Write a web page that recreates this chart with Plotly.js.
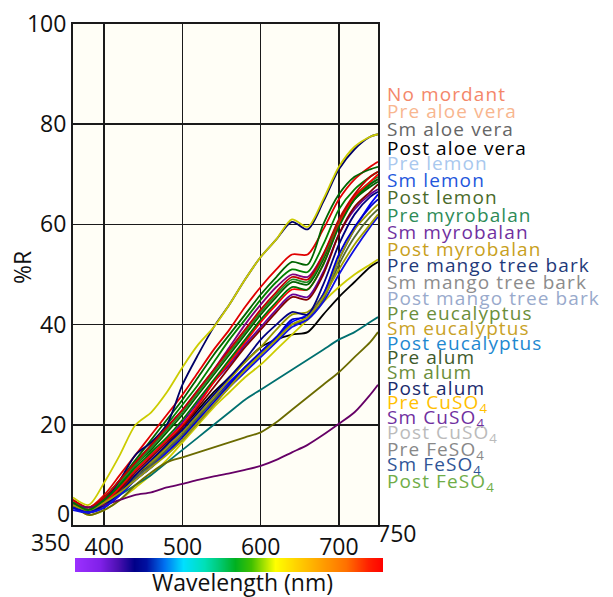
<!DOCTYPE html>
<html>
<head>
<meta charset="utf-8">
<script src="https://cdn.plot.ly/plotly-3.0.1.min.js"></script>
<style>html,body{margin:0;padding:0;background:#fff;}#chart{width:613px;height:597px;}</style>
</head>
<body>
<div id="chart"></div>
<script>
// ---- data ----
const wavelengths = [360,380,400,420,440,460,480,500,520,540,560,580,600,620,640,660,680,700,720,740,750];

const seriesNames = [
  "No mordant","Pre aloe vera","Sm aloe vera","Post aloe vera","Pre lemon","Sm lemon","Post lemon",
  "Pre myrobalan","Sm myrobalan","Post myrobalan","Pre mango tree bark","Sm mango tree bark",
  "Post mango tree bark","Pre eucalyptus","Sm eucalyptus","Post eucalyptus","Pre alum","Sm alum",
  "Post alum","Pre CuSO<sub>4</sub>","Sm CuSO<sub>4</sub>","Post CuSO<sub>4</sub>",
  "Pre FeSO<sub>4</sub>","Sm FeSO<sub>4</sub>","Post FeSO<sub>4</sub>"
];

const noMordant       = [5,3.5,6,10,14,18,22,26,30.5,35,39,43.5,47.5,51,54,54,59,65,69,71.5,72.5];
const preAloeVera     = [4,3,5.5,9,13,17,21,25,29.5,34,38,42,46,49.5,52.5,52,60,66,69.5,71,71.5];
const smAloeVera      = [4.5,3,5,8.5,12.5,16,20,24,28,32.5,37,41,45,48.5,51,50.5,56,63,67,69.5,70.5];
const postAloeVera    = [4,2.5,4,6.5,9.5,12.5,16,19.5,23,26.5,29.5,32.5,35.5,37,38,38.5,42,45.5,48.5,51.5,52.5];
const preLemon        = [4,2.5,4.5,8,12,15.5,19.5,23,27,31,35.5,40,44,47.5,50,49.5,54,60.5,65,68,69];
const smLemon         = [3.5,2.5,4,6.5,9.5,12,15,18,21.5,25,28.5,31.5,34.5,37.5,40.5,42,46,53,59,64,66];
const postLemon       = [4.5,3,5,8,12,15,18.5,22,26,30,34,38,42,45.5,48.5,48,53,60,65,67.5,68.5];
const preMyrobalan    = [4.5,3,5,8.5,12,15.5,19,22.5,26.5,30.5,34.5,38.5,42.5,46,49,48.5,53.5,60.5,65.5,68.5,69.5];
const smMyrobalan     = [4,2.5,4.5,7.5,11,14,17,20.5,24.5,28.5,32,36,39.5,43,46,45.5,50.5,58,63,66,67];
const postMyrobalan   = [4,3,4.5,7,10,12.5,15.5,18.5,22,25.5,29,32.5,35.5,39,42,42.5,46,53,59,62.5,64];
const preMango        = [4,3,5,9,14,16.5,20,28,34,39.5,44,49,53.5,57,60.5,59,64.5,71,75,77.5,78];
const smMango         = [5,3,4.5,7.5,11,14,17,20,24,28.5,32.5,36.5,40.5,44,47,47,52,60,65.5,68.5,70];
const postMango       = [4,2.5,4,7,10.5,13.5,16.5,19.5,23.5,27.5,31.5,35.5,39,42.5,45.5,45,50,58,63.5,66.5,68];
const preEucalyptus   = [5,3.5,5.5,9,12.5,16,19.5,23,27,31,35,39,43,46.5,49.5,49,54,61,66,69.5,70.5];
const smEucalyptus    = [4,2,3,5,7.5,10,13,16.5,20,23.5,26.5,29.5,32,35,38,41,44.5,47.5,50,52,53];
const postEucalyptus  = [4.5,3,4,6,8,10,12.5,15,17.5,20,22.5,25,27,29,31,33,35,37,38.5,40.5,41.5];
const preAlum         = [4,2,3,5,8,10.5,12.5,13.5,14.5,15.5,16.5,17.5,18.5,20.5,23,25.5,28,30.5,33.5,36.5,38.5];
const smAlum          = [4,2.5,4,6.5,9.5,12,15,18,21.5,25,28,31,34,37,40,41,45,52,57.5,61.5,63];
const postAlum        = [3.5,2.5,4,6.5,10,13,16,19,22.5,26,29.5,33,37,40,42.5,42,48,56,62,65.5,66.5];
const preCuSO4        = [5.5,4,8.5,14,20,22.5,26.5,31.5,36,39.5,44,49,53.5,57,61,59.5,65,71.5,75.5,77.5,78];
const smCuSO4         = [4,3.5,4,5,6,6.5,7.5,8.2,9,9.7,10.3,11,11.8,13,14.5,16,18,20.2,22.5,26,28];
const postCuSO4       = [3.5,2.5,3.5,6,9,11.5,14.5,17.5,21,24.5,28,31.5,34.5,37.5,41,41.5,46,54,59.5,63.5,65];
const preFeSO4        = [3,2.5,3.5,6,9,11.5,14.5,17,20.5,24,27.5,30.5,33.5,36.5,39.5,41,44.5,50,55,59.5,61.5];
const smFeSO4         = [4,3,4.5,6.5,9,11.5,14,17,20.5,24,27.5,31,34,37,40,41.5,45.5,51,56,60,62];
const postFeSO4       = [4.5,3,5,8,11.5,14.5,17.5,21,25,29,33,37,41,44.5,47.5,47,52,59.5,65,68,69];

const seriesValues = [noMordant,preAloeVera,smAloeVera,postAloeVera,preLemon,smLemon,postLemon,
  preMyrobalan,smMyrobalan,postMyrobalan,preMango,smMango,postMango,preEucalyptus,smEucalyptus,
  postEucalyptus,preAlum,smAlum,postAlum,preCuSO4,smCuSO4,postCuSO4,preFeSO4,smFeSO4,postFeSO4];

const xTickVals = [400,500,600,700];
const yTickVals = [20,40,60,80,100];

const spectrumPos = [0,0.08,0.14,0.19,0.23,0.29,0.35,0.42,0.47,0.52,0.57,0.61,0.65,0.72,0.8,0.88,0.95,1];

// ---- styles ----
const lineColors = ["#E00000","#006400","#008000","#000000","#800080","#0000FF","#006000",
  "#228B22","#660099","#999900","#000066","#FF0000","#800000","#C00000","#CCCC00",
  "#007070","#6B6B00","#556B2F","#000080","#CCCC00","#660066","#0000CC","#1010E0","#A0A000","#007000"];
const legendColors = ["#F4876A","#F8B68F","#666666","#000000","#A9C8EE","#2456DC","#4A6A2A",
  "#2E8B57","#7030A0","#C8A020","#1F3A7A","#8C8C8C","#99AACC","#6B8E3A","#C9A227","#1E88D0",
  "#3E5A2A","#6B8E3A","#1A2A6C","#FFC000","#7030A0","#BBBBBB","#888888","#2F5597","#70AD47"];
const legendYpx = [94,111,129,148,163,180,197,215,232,249,265,282,298,313,328,343,357,372,388,403,418,433,450,465,482];
const spectrumColors = ["#9B30FF","#8020E8","#4A0FB0","#000088","#0010A0","#0070F0","#00E0FF","#00E0B8",
  "#00C870","#00B020","#40C000","#A0E000","#FFFF00","#FFD000","#FFA000","#FF7000","#FF2000","#FF0000"];

// ---- geometry helpers (pixels -> paper) ----
const W = 613, H = 597, ML = 73, MR = 225, MT = 24, MB = 20;
const PW = W - ML - MR, PH = H - MT - MB;
const px = x => (x - ML) / PW;
const py = y => (H - MB - y) / PH;

const traces = seriesValues.map((vals, i) => ({
  type: 'scatter', mode: 'lines', x: wavelengths, y: vals, name: seriesNames[i],
  line: {color: lineColors[i], width: 1.8, shape: 'spline', smoothing: 0.8},
  xaxis: 'x', yaxis: 'y', showlegend: false, hoverinfo: 'skip'
}));

traces.push({
  type: 'heatmap', x: spectrumPos, y: [0], z: [spectrumPos], zmin: 0, zmax: 1, zsmooth: 'best',
  colorscale: spectrumPos.map((p, i) => [p, spectrumColors[i]]), showscale: false,
  xaxis: 'x2', yaxis: 'y2', hoverinfo: 'skip'
});

const font = "Open Sans, sans-serif";
const annotations = seriesNames.map((n, i) => ({
  text: n, xref: 'paper', yref: 'paper', x: px(385), y: py(legendYpx[i]),
  xanchor: 'left', yanchor: 'middle', align: 'left', showarrow: false,
  font: {family: font, size: 19, color: legendColors[i]}
}));
annotations.push(
  {text: '%R', xref: 'paper', yref: 'paper', x: px(22), y: py(268), textangle: -90,
   xanchor: 'center', yanchor: 'middle', showarrow: false, font: {family: font, size: 23, color: '#111'}},
  {text: 'Wavelength (nm)', xref: 'paper', yref: 'paper', x: px(242), y: py(582),
   xanchor: 'center', yanchor: 'middle', showarrow: false, font: {family: font, size: 23, color: '#111'}},
  {text: '350', xref: 'paper', yref: 'paper', x: px(50), y: py(542),
   xanchor: 'center', yanchor: 'middle', showarrow: false, font: {family: font, size: 23, color: '#111'}},
  {text: '750', xref: 'paper', yref: 'paper', x: px(397), y: py(533),
   xanchor: 'center', yanchor: 'middle', showarrow: false, font: {family: font, size: 23, color: '#111'}},
  {text: '0', xref: 'paper', yref: 'paper', x: px(72), y: py(513),
   xanchor: 'right', yanchor: 'middle', showarrow: false, font: {family: font, size: 23, color: '#111'}}
);

const layout = {
  width: W, height: H,
  margin: {l: ML, r: MR, t: MT, b: MB, pad: 0},
  paper_bgcolor: '#ffffff', plot_bgcolor: '#FFFEF6',
  font: {family: font, color: '#111'},
  showlegend: false,
  xaxis: {domain: [0, px(378)], range: [360, 750], tickvals: xTickVals, ticks: '',
    showgrid: true, gridcolor: '#1a1a1a', gridwidth: 1.6, zeroline: false,
    showline: true, mirror: true, linecolor: '#1a1a1a', linewidth: 2,
    tickfont: {family: font, size: 23, color: '#111'}, anchor: 'y'},
  yaxis: {domain: [py(525), 1], range: [0, 100], tickvals: yTickVals, ticks: '',
    showgrid: true, gridcolor: '#1a1a1a', gridwidth: 1.6, zeroline: false,
    showline: true, mirror: true, linecolor: '#1a1a1a', linewidth: 2,
    tickfont: {family: font, size: 23, color: '#111'}, anchor: 'x'},
  xaxis2: {domain: [px(75), px(383)], range: [0, 1], visible: false, anchor: 'y2', fixedrange: true},
  yaxis2: {domain: [py(572), py(558)], range: [-0.5, 0.5], visible: false, anchor: 'x2', fixedrange: true},
  annotations: annotations
};

Plotly.newPlot('chart', traces, layout, {displayModeBar: false, staticPlot: true}).then(gd => {
  // widen the legend-like text a little, as in the reference
  gd.querySelectorAll('.annotation').forEach(g => {
    const idx = +g.getAttribute('data-index');
    if (idx < seriesNames.length) {
      g.querySelectorAll('text').forEach(t => { t.style.letterSpacing = '1.1px'; });
    }
  });
});
</script>
</body>
</html>
